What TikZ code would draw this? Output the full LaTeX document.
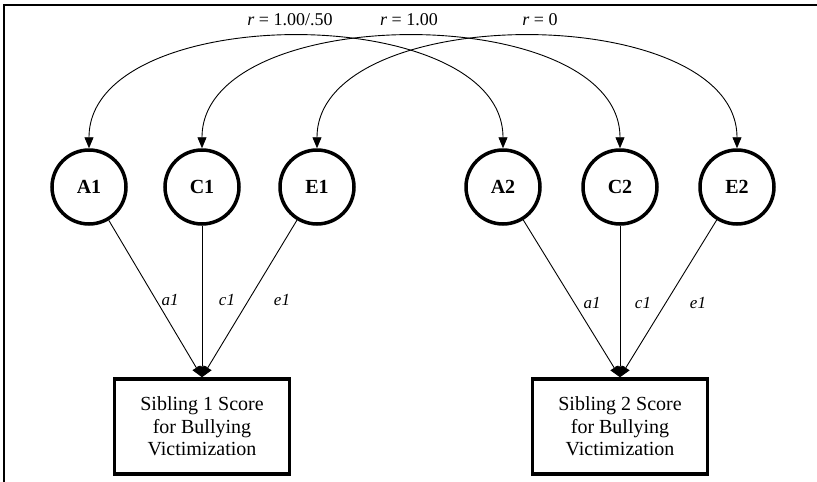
\documentclass[tikz,border=0pt]{standalone}
\usepackage{fontspec}
\setmainfont{Liberation Serif}
\usetikzlibrary{calc,arrows.meta}

\begin{document}
\begin{tikzpicture}[x=1pt,y=-1pt]
        \tikzstyle{latent}=[draw,circle,line width=3.5pt,minimum size=74pt,inner sep=0pt,font=\fontsize{20}{24}\selectfont\bfseries]
        \tikzstyle{score}=[draw,rectangle,line width=3.5pt,minimum width=175pt,minimum height=95pt,align=center,font=\fontsize{20}{22.5}\selectfont]
        \tikzstyle{load}=[-{Triangle[length=11pt,width=9pt]},line width=0.9pt]
        \tikzstyle{corr}=[{Triangle[length=11pt,width=9pt]}-{Triangle[length=11pt,width=9pt]},line width=0.9pt]
        \tikzstyle{coef}=[font=\fontsize{17}{20}\selectfont\itshape]
        \tikzstyle{rval}=[font=\fontsize{18}{20}\selectfont]
        \useasboundingbox (0,0) rectangle (817,482);
        \draw[line width=2pt] (4,482) -- (4,5) -- (817,5);
        % Latent factors
        \node[latent] (A1) at (89,187) {A1};
        \node[latent] (C1) at (202,187) {C1};
        \node[latent] (E1) at (317,187) {E1};
        \node[latent] (A2) at (503,187) {A2};
        \node[latent] (C2) at (620,187) {C2};
        \node[latent] (E2) at (737,187) {E2};
        % Observed scores
        \node[score] (S1) at (202,426.5) {Sibling 1 Score\\for Bullying\\Victimization};
        \node[score] (S2) at (620,426.5) {Sibling 2 Score\\for Bullying\\Victimization};
        % Correlations between twins
        \draw[corr] (A1.north) .. controls ($(A1.north)+(0,-148)$) and ($(A2.north)+(0,-148)$) .. (A2.north);
        \draw[corr] (C1.north) .. controls ($(C1.north)+(0,-148)$) and ($(C2.north)+(0,-148)$) .. (C2.north);
        \draw[corr] (E1.north) .. controls ($(E1.north)+(0,-148)$) and ($(E2.north)+(0,-148)$) .. (E2.north);
        \node[rval] (r1) at (290,20) {\textit{r} = 1.00/.50};
        \node[rval] (r2) at (409,20) {\textit{r} = 1.00};
        \node[rval] (r3) at (540,20) {\textit{r} = 0};
        % Loadings
        \draw[load] (A1) -- (S1.north);
        \draw[load] (C1) -- (S1.north);
        \draw[load] (E1) -- (S1.north);
        \draw[load] (A2) -- (S2.north);
        \draw[load] (C2) -- (S2.north);
        \draw[load] (E2) -- (S2.north);
        \node[coef] (a1) at (170,300) {a1};
        \node[coef] (c1) at (227,300) {c1};
        \node[coef] (e1) at (282,300) {e1};
        \node[coef] (a2) at (592,303) {a1};
        \node[coef] (c2) at (643,303) {c1};
        \node[coef] (e2) at (698,303) {e1};
\end{tikzpicture}
\end{document}
